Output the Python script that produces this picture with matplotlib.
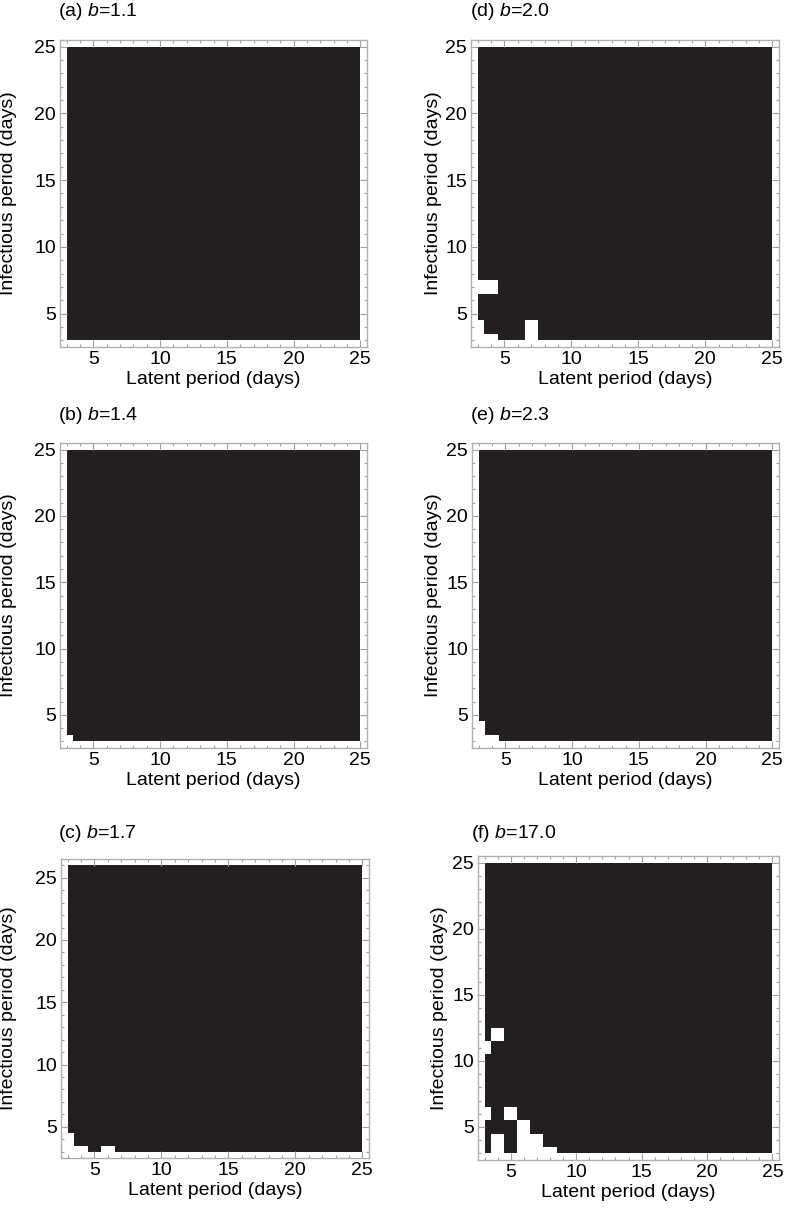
import numpy as np
import matplotlib
matplotlib.use("Agg")
import matplotlib.pyplot as plt
from matplotlib.colors import ListedColormap
from matplotlib.ticker import MultipleLocator

plt.rcParams['font.family'] = ['Liberation Sans', 'DejaVu Sans']
plt.rcParams['mathtext.fontset'] = 'custom'
plt.rcParams['mathtext.it'] = 'Liberation Sans:italic'
plt.rcParams['mathtext.rm'] = 'Liberation Sans'

# ---- data ----
panel_labels = ["(a)", "(b)", "(c)", "(d)", "(e)", "(f)"]
b_values = ["1.1", "1.4", "1.7", "2.0", "2.3", "17.0"]
latent_days = list(range(3, 26))
infectious_days_std = list(range(3, 26))
infectious_days_c = list(range(3, 27))
# cells (latent, infectious) that are white; all other cells are black
white_a = []
white_b = [(3, 3)]
white_c = [(3, 3), (3, 4), (4, 3), (6, 3)]
white_d = [(3, 7), (4, 7), (3, 3), (3, 4), (4, 3), (7, 3), (7, 4)]
white_e = [(3, 3), (3, 4), (4, 3)]
white_f = [(3, 11), (4, 12), (3, 6), (5, 6), (4, 3), (4, 4),
           (6, 3), (6, 4), (6, 5), (7, 3), (7, 4), (8, 3)]
whites = [white_a, white_b, white_c, white_d, white_e, white_f]
yranges = [infectious_days_std, infectious_days_std, infectious_days_c,
           infectious_days_std, infectious_days_std, infectious_days_std]

W, H = 787, 1211
fig = plt.figure(figsize=(W / 100, H / 100), dpi=100)

# axes frames in pixel coords (x0, x1, y0_top, y1_bottom)
frames = [
    (60, 367, 40, 347),
    (60, 367, 443, 748),
    (61, 369, 859, 1158),
    (471, 779, 40, 347),
    (472, 779, 443, 748),
    (478, 779, 856, 1160),
]
title_pos = [(58, 11), (58, 415), (58, 833), (470, 11), (470, 415), (471, 833)]
ylabel_x = [9, 9, 9, 433, 434, 440]

cmap = ListedColormap(['white', '#231f20'])
fs = 14

for i in range(6):
    x0, x1, y0, y1 = frames[i]
    ax = fig.add_axes([x0 / W, 1 - y1 / H, (x1 - x0) / W, (y1 - y0) / H])
    xs = np.array(latent_days)
    ys = np.array(yranges[i])
    Z = np.ones((len(ys), len(xs)))
    for (lx, iy) in whites[i]:
        Z[iy - ys[0], lx - xs[0]] = 0
    xe = np.clip(np.arange(xs[0] - 0.5, xs[-1] + 1.0, 1.0), xs[0], xs[-1])
    ye = np.clip(np.arange(ys[0] - 0.5, ys[-1] + 1.0, 1.0), ys[0], ys[-1])
    ax.pcolormesh(xe, ye, Z, cmap=cmap, vmin=0, vmax=1, shading='flat')
    ax.set_xlim(xs[0] - 0.5, xs[-1] + 0.5)
    ax.set_ylim(ys[0] - 0.5, ys[-1] + 0.5)
    ax.set_xticks([5, 10, 15, 20, 25])
    ax.set_yticks([5, 10, 15, 20, 25])
    ax.xaxis.set_minor_locator(MultipleLocator(1))
    ax.yaxis.set_minor_locator(MultipleLocator(1))
    ax.tick_params(which='both', direction='in', top=True, right=True,
                   color='#a0a0a0', width=0.8, labelsize=fs, labelcolor='black')
    ax.tick_params(which='major', length=5, pad=3)
    ax.tick_params(which='minor', length=2.5)
    for s in ax.spines.values():
        s.set_color('#b0b0b0')
        s.set_linewidth(1.0)
    ax.set_xlabel("Latent period (days)", fontsize=fs, labelpad=2)
    tx, ty = title_pos[i]
    fig.text(tx / W, 1 - ty / H, f"{panel_labels[i]} $b$={b_values[i]}",
             fontsize=fs, ha='left', va='center')
    fig.text(ylabel_x[i] / W, 1 - ((y0 + y1) / 2) / H, "Infectious period (days)",
             fontsize=fs, rotation=90, ha='center', va='center')

fig.savefig("out.png", dpi=100)
